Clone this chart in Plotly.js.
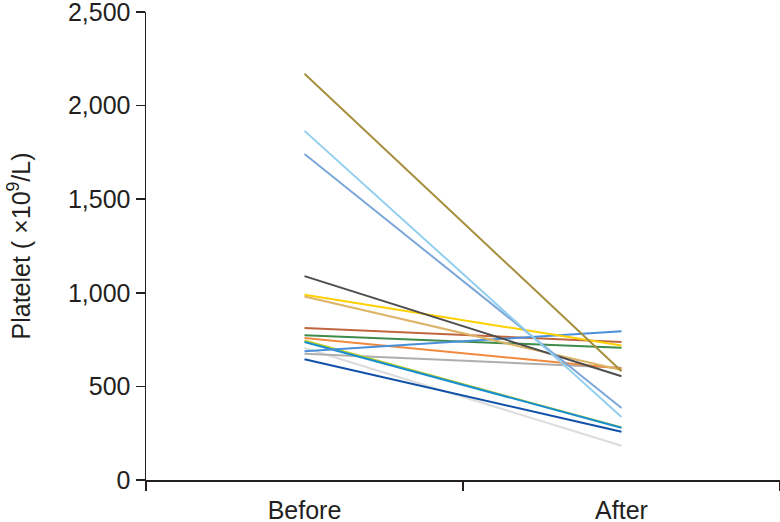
<!DOCTYPE html>
<html>
<head>
<meta charset="utf-8">
<script src="https://cdn.plot.ly/plotly-3.0.1.min.js"></script>
<style>html,body{margin:0;padding:0;background:#fff;}#chart{width:780px;height:522px;}</style>
</head>
<body>
<div id="chart"></div>
<script>
const categories = ['Before', 'After'];
const beforeValues = [705, 675, 645, 759, 812, 773, 745, 737, 688, 990, 980, 1089, 1741, 1865, 2170];
const afterValues  = [183, 600, 258, 596, 737, 706, 280, 279, 794, 718, 588, 554, 385, 337, 581];
const lineColors = ['#DCDCDC', '#AEAEAE', '#1050A8', '#F08A3E', '#C0663F', '#3E8B4A', '#BCCD2A', '#1A8FD0', '#4A90D9', '#FFD000', '#DDB366', '#4D4D4D', '#7BA7DA', '#92CFEF', '#A68F3C'];
const yTicks = [0, 500, 1000, 1500, 2000, 2500];

const traces = beforeValues.map((b, i) => ({
  type: 'scatter', mode: 'lines',
  x: categories,
  y: [b, afterValues[i]],
  line: {color: lineColors[i], width: 2},
  hoverinfo: 'skip'
}));
function mkFont() { return {family: 'Liberation Sans, Arial, sans-serif', size: 25, color: '#231F20'}; }
const layout = {
  width: 780, height: 522,
  margin: {l: 146, r: 0, t: 12, b: 42},
  showlegend: false,
  paper_bgcolor: '#fff', plot_bgcolor: '#fff',
  font: mkFont(),
  xaxis: {
    type: 'category', range: [-0.5, 1.5],
    tickson: 'boundaries', ticks: 'outside', ticklen: 9, tickwidth: 1.5, tickcolor: '#231F20',
    showline: true, linecolor: '#231F20', linewidth: 1.5,
    showgrid: false, zeroline: false,
    tickfont: mkFont(), ticklabeloverflow: 'allow', ticklabelstandoff: 7
  },
  yaxis: {
    range: [0, 2500], tickvals: yTicks, tickformat: ',d',
    ticks: 'outside', ticklen: 9, tickwidth: 1.5, tickcolor: '#231F20',
    showline: true, linecolor: '#231F20', linewidth: 1.5,
    showgrid: false, zeroline: false,
    tickfont: mkFont(), ticklabeloverflow: 'allow',
    title: {text: 'Platelet ( ×10<sup>9</sup>/L)', font: mkFont(), standoff: 30}
  }
};
Plotly.newPlot('chart', traces, layout, {staticPlot: true, displayModeBar: false});
</script>
</body>
</html>
